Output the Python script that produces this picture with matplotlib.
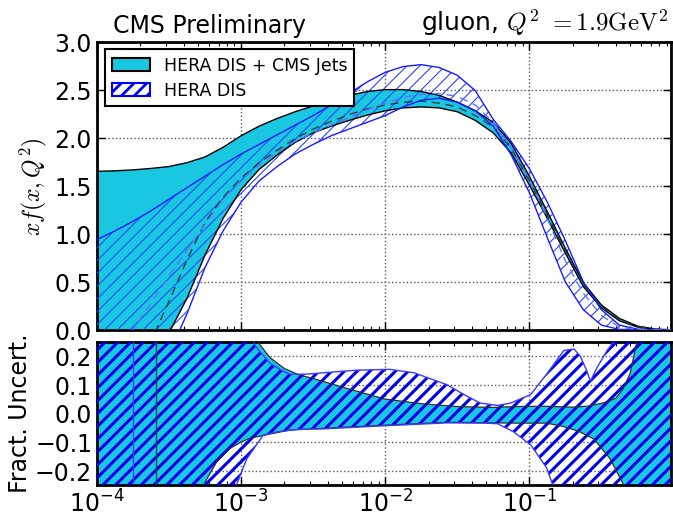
"""Gluon PDF at Q^2 = 1.9 GeV^2: HERA DIS alone vs HERA DIS + CMS jets.

Top panel shows xf(x, Q^2) bands, bottom panel the fractional uncertainty.
Values were read off the published figure.
"""

import matplotlib

matplotlib.use("Agg")
import matplotlib.patches as mpatches  # noqa: E402
import matplotlib.pyplot as plt  # noqa: E402
import numpy as np  # noqa: E402

# Render at a slightly higher dpi so the hatch spacing matches the original;
# all point sizes are scaled back by PT so text and lines keep their pixel size.
DPI = 115
PT = 100.0 / DPI

plt.rcParams.update({
    "font.family": "DejaVu Sans",
    "mathtext.fontset": "cm",
    "hatch.linewidth": 2.0 * PT,
    "axes.linewidth": 2.0 * PT,
    "xtick.direction": "in",
    "ytick.direction": "in",
    "xtick.top": True,
    "ytick.right": True,
    "xtick.major.size": 6 * PT,
    "ytick.major.size": 6 * PT,
    "xtick.minor.size": 3 * PT,
    "xtick.major.width": 1.0 * PT,
    "ytick.major.width": 1.0 * PT,
    "xtick.minor.width": 0.8 * PT,
    "xtick.major.pad": 3.5 * PT,
    "ytick.major.pad": 3.5 * PT,
    "xtick.labelsize": 17 * PT,
    "ytick.labelsize": 17 * PT,
})

CYAN = "#19c8e0"
HATCH = "///"

# ---- top panel: xf(x, Q^2) bands on a log10(x) grid ----
LOG_X = [-4.0, -3.875, -3.75, -3.625, -3.5, -3.375, -3.25, -3.125, -3.0, -2.875,
         -2.75, -2.625, -2.5, -2.375, -2.25, -2.125, -2.0, -1.875, -1.75, -1.625,
         -1.5, -1.375, -1.25, -1.125, -1.0, -0.875, -0.75, -0.625, -0.5, -0.375,
         -0.25, -0.125, -0.01]
cms_up = [1.65, 1.655, 1.665, 1.68, 1.70, 1.74, 1.80, 1.90, 2.02, 2.12,
          2.20, 2.27, 2.33, 2.39, 2.44, 2.48, 2.50, 2.50, 2.48, 2.44,
          2.37, 2.28, 2.16, 1.94, 1.60, 1.23, 0.85, 0.49, 0.26, 0.12,
          0.04, 0.008, 0.0]
cms_lo = [-0.6, -0.45, -0.3, -0.16, -0.03, 0.33, 0.78, 1.16, 1.46, 1.67,
          1.82, 1.95, 2.05, 2.12, 2.18, 2.235, 2.28, 2.31, 2.32, 2.31,
          2.27, 2.18, 2.05, 1.84, 1.51, 1.16, 0.80, 0.45, 0.23, 0.095,
          0.03, 0.005, 0.0]
cms_central = [-1.5, -1.0, -0.6, -0.12, 0.30, 0.73, 1.12, 1.38, 1.58, 1.74,
               1.87, 1.99, 2.09, 2.17, 2.24, 2.30, 2.34, 2.37, 2.38, 2.36,
               2.32, 2.23, 2.11, 1.89, 1.555, 1.195, 0.825, 0.47, 0.245, 0.108,
               0.035, 0.0065, 0.0]
hera_up = [0.94, 1.03, 1.13, 1.24, 1.36, 1.48, 1.60, 1.72, 1.83, 1.93,
           2.03, 2.13, 2.23, 2.34, 2.46, 2.58, 2.68, 2.74, 2.76, 2.73,
           2.65, 2.49, 2.19, 1.96, 1.68, 1.33, 0.93, 0.50, 0.21, 0.05,
           0.008, 0.001, 0.0]
hera_lo = [-1.5, -1.15, -0.8, -0.5, -0.25, 0.17, 0.65, 1.03, 1.33, 1.55,
           1.70, 1.83, 1.93, 2.02, 2.09, 2.16, 2.23, 2.32, 2.39, 2.41,
           2.37, 2.28, 2.12, 1.82, 1.43, 0.96, 0.50, 0.21, 0.05, 0.005,
           0.0, 0.0, 0.0]
hera_central = [-0.3, -0.15, 0.0, 0.28, 0.56, 0.83, 1.10, 1.36, 1.56, 1.72,
                1.85, 1.96, 2.05, 2.13, 2.21, 2.29, 2.36, 2.42, 2.45, 2.46,
                2.43, 2.34, 2.16, 1.90, 1.57, 1.16, 0.72, 0.38, 0.15, 0.03,
                0.004, 0.0005, 0.0]

# ---- bottom panel: fractional uncertainty, each edge on its own log10(x) grid ----
cms_frac_up_lx = [-4.0, -2.95, -2.9, -2.8, -2.7, -2.6, -2.5, -2.25, -2.0, -1.75,
                  -1.5, -1.25, -1.1, -0.9, -0.7, -0.6, -0.5, -0.45, -0.4, -0.35,
                  -0.3, -0.25, -0.2, 0.0]
cms_frac_up = [0.6, 0.35, 0.26, 0.195, 0.157, 0.135, 0.122, 0.085, 0.05, 0.034,
               0.024, 0.021, 0.024, 0.025, 0.022, 0.025, 0.035, 0.043, 0.053, 0.085,
               0.14, 0.26, 0.6, 0.6]
cms_frac_lo_lx = [-4.0, -3.3, -3.25, -3.17, -3.08, -3.0, -2.94, -2.78, -2.66, -2.43,
                  -2.0, -1.57, -1.1, -0.88, -0.76, -0.65, -0.55, -0.44, -0.345, -0.3,
                  0.0]
cms_frac_lo = [-0.6, -0.32, -0.24, -0.17, -0.123, -0.10, -0.087, -0.07, -0.058, -0.052,
               -0.041, -0.031, -0.034, -0.034, -0.046, -0.064, -0.09, -0.158, -0.25, -0.4,
               -0.6]
hera_frac_up_lx = [-4.0, -2.95, -2.9, -2.8, -2.7, -2.66, -2.55, -2.43, -2.2, -1.97,
                   -1.8, -1.57, -1.45, -1.34, -1.22, -1.13, -0.99, -0.88, -0.76, -0.69,
                   -0.646, -0.6, -0.576, -0.53, -0.46, -0.415, -0.35, 0.0]
hera_frac_up = [0.6, 0.3, 0.235, 0.175, 0.145, 0.137, 0.137, 0.142, 0.151, 0.154,
                0.142, 0.10, 0.065, 0.036, 0.028, 0.036, 0.066, 0.137, 0.22, 0.225,
                0.2, 0.148, 0.113, 0.16, 0.22, 0.25, 0.6, 0.6]
hera_frac_lo_lx = [-4.0, -3.1, -3.04, -2.96, -2.845, -2.75, -2.61, -2.43, -2.0, -1.57,
                   -1.3, -1.22, -1.11, -0.99, -0.88, -0.83, -0.7, 0.0]
hera_frac_lo = [-0.6, -0.4, -0.26, -0.158, -0.075, -0.064, -0.056, -0.054, -0.043, -0.033,
                -0.034, -0.036, -0.064, -0.11, -0.19, -0.26, -0.6, -0.6]

# log10(x) where each central value crosses zero (ratio blows up)
hera_zero_lx = -3.75
cms_zero_lx = -3.59


def xs(lx):
    return 10.0 ** np.asarray(lx, dtype=float)


def hatch_lw(artist, lw):
    if hasattr(artist, "set_hatch_linewidth"):
        artist.set_hatch_linewidth(lw)


def style_axes(ax):
    ax.set_xscale("log")
    ax.set_xlim(1e-4, 0.97)
    ax.grid(True, which="major", color="0.35", linestyle=":", linewidth=1.0 * PT)
    ax.set_axisbelow(True)
    ax.tick_params(which="both", direction="in", top=True, right=True)


fig = plt.figure(figsize=(673.5 / DPI, 519.5 / DPI), dpi=DPI)
ax_top = fig.add_axes([0.144, 0.364, 0.853, 0.555])
ax_bot = fig.add_axes([0.144, 0.0655, 0.853, 0.2755])

# top panel
x = xs(LOG_X)
ax_top.fill_between(x, cms_lo, cms_up, facecolor=CYAN, edgecolor="none", zorder=2)
h = ax_top.fill_between(x, hera_lo, hera_up, facecolor="none", edgecolor="#2a46ff",
                        hatch=HATCH, linewidth=0, zorder=3)
hatch_lw(h, 0.8 * PT)
dash = (6, 4)
ax_top.plot(x, cms_up, color="k", lw=1.0 * PT, zorder=4)
ax_top.plot(x, cms_lo, color="k", lw=1.0 * PT, zorder=4)
ax_top.plot(x, cms_central, color="#204040", lw=1.0 * PT, ls="--", dashes=dash, zorder=4)
ax_top.plot(x, hera_up, color="#1a1aff", lw=1.0 * PT, zorder=4)
ax_top.plot(x, hera_lo, color="#1a1aff", lw=1.0 * PT, zorder=4)
ax_top.plot(x, hera_central, color="#5a74ff", lw=1.0 * PT, ls="--", dashes=dash, zorder=4)
style_axes(ax_top)
ax_top.set_ylim(0.0, 3.0)
ax_top.set_yticks(np.arange(0.0, 3.01, 0.5))
ax_top.tick_params(labelbottom=False)

handles = [
    mpatches.Patch(facecolor=CYAN, edgecolor="k", linewidth=1.5 * PT,
                   label="HERA DIS + CMS Jets"),
    mpatches.Patch(facecolor="white", edgecolor="#0000ff", linewidth=1.5 * PT, hatch=HATCH,
                   label="HERA DIS"),
]
leg = ax_top.legend(handles=handles, loc="upper left", fontsize=12.5 * PT, fancybox=False,
                    framealpha=1.0, edgecolor="k", borderaxespad=0.45, handlelength=2.2,
                    handleheight=0.8, labelspacing=0.4)
leg.get_frame().set_linewidth(1.5 * PT)

ax_top.text(0.028, 1.015, "CMS Preliminary", transform=ax_top.transAxes,
            fontsize=17 * PT, ha="left", va="bottom")
ax_top.text(0.995, 1.015, r"gluon, $Q^2$ $=$$1.9\mathrm{GeV}^2$", transform=ax_top.transAxes,
            fontsize=18 * PT, ha="right", va="bottom")

# bottom panel
ax_bot.fill(np.r_[xs(cms_frac_up_lx), xs(cms_frac_lo_lx)[::-1]],
            np.r_[cms_frac_up, cms_frac_lo[::-1]],
            facecolor=CYAN, edgecolor="none", zorder=2)
hb = ax_bot.fill(np.r_[xs(hera_frac_up_lx), xs(hera_frac_lo_lx)[::-1]],
                 np.r_[hera_frac_up, hera_frac_lo[::-1]],
                 facecolor="none", edgecolor="#0000ee", hatch=HATCH, linewidth=0, zorder=3)
for p in hb:
    hatch_lw(p, 2.2 * PT)
ax_bot.plot(xs(cms_frac_up_lx), cms_frac_up, color="#303030", lw=0.9 * PT, zorder=4)
ax_bot.plot(xs(cms_frac_lo_lx), cms_frac_lo, color="#303030", lw=0.9 * PT, zorder=4)
ax_bot.plot(xs(hera_frac_up_lx), hera_frac_up, color="#3a3aff", lw=1.0 * PT, zorder=4)
ax_bot.plot(xs(hera_frac_lo_lx), hera_frac_lo, color="#3a3aff", lw=1.0 * PT, zorder=4)
ax_bot.axvline(10.0 ** hera_zero_lx, color="#3a3aff", lw=1.0 * PT, zorder=4)
ax_bot.axvline(10.0 ** cms_zero_lx, color="#204040", lw=1.0 * PT, zorder=4)
style_axes(ax_bot)
ax_bot.set_ylim(-0.25, 0.25)
ax_bot.set_yticks([-0.2, -0.1, 0.0, 0.1, 0.2])

fig.text(33 / 673, 1 - 186 / 519, r"$xf(x,Q^2)$", rotation=90, fontsize=17 * PT,
         ha="center", va="center")
fig.text(20 / 673, 1 - 413 / 519, "Fract. Uncert.", rotation=90, fontsize=17 * PT,
         ha="center", va="center")

fig.savefig("out.png", dpi=DPI)
